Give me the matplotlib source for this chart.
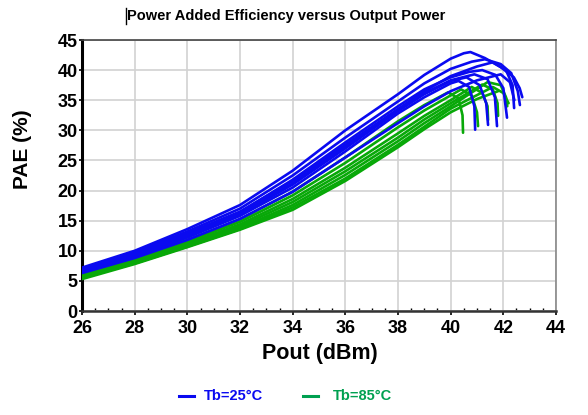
import matplotlib
matplotlib.use("Agg")
import matplotlib.pyplot as plt
from matplotlib.lines import Line2D
import numpy as np

plt.rcParams['font.family'] = ['Liberation Sans', 'DejaVu Sans']

# Blue curves (Tb=25°C): Pout (dBm) and PAE (%)
b1_x = [26, 28, 30, 32, 34, 36, 38, 39, 40, 40.5, 40.75, 41.3, 41.9, 42.4, 42.62, 42.72]
b1_y = [7.2, 10.0, 13.6, 17.6, 23.3, 30.0, 36.0, 39.2, 41.9, 42.8, 43.0, 42.0, 40.5, 38.8, 37.0, 35.5]
b2_x = [26, 28, 30, 32, 34, 36, 38, 39, 40, 40.8, 41.3, 41.9, 42.3, 42.55, 42.63]
b2_y = [7.0, 9.8, 13.2, 17.0, 22.5, 28.8, 34.8, 37.8, 40.2, 41.4, 41.8, 41.0, 39.5, 36.5, 34.2]
b3_x = [26, 28, 30, 32, 34, 36, 38, 39, 40, 41.0, 41.6, 42.1, 42.35, 42.41]
b3_y = [6.9, 9.6, 12.9, 16.5, 21.6, 27.6, 33.5, 36.5, 39.0, 40.6, 41.3, 40.0, 37.5, 33.7]
b4_x = [26, 28, 30, 32, 34, 36, 38, 39, 40, 40.7, 41.2, 41.7, 42.0, 42.14]
b4_y = [6.8, 9.5, 12.8, 16.4, 21.8, 28.0, 34.0, 36.8, 38.8, 39.7, 40.0, 39.2, 37.0, 32.1]
b5_x = [26, 28, 30, 32, 34, 36, 38, 39, 40, 40.9, 41.4, 41.68, 41.76]
b5_y = [6.7, 9.4, 12.6, 16.2, 21.2, 27.3, 33.5, 36.2, 38.3, 39.3, 38.5, 35.5, 30.7]
b6_x = [26, 28, 30, 32, 34, 36, 38, 39, 40, 40.6, 41.1, 41.35, 41.42]
b6_y = [6.6, 9.2, 12.4, 16.0, 21.0, 27.0, 33.2, 36.0, 38.2, 38.8, 37.5, 34.5, 30.9]
b7_x = [26, 28, 30, 32, 34, 36, 38, 39, 40, 40.3, 40.7, 40.9, 40.93]
b7_y = [6.5, 9.0, 12.2, 15.8, 20.5, 26.5, 32.8, 35.5, 37.8, 38.2, 37.2, 34.0, 30.1]
b8_x = [26, 28, 30, 32, 34, 36, 38, 39, 40, 41.0, 41.9, 42.25, 42.42]
b8_y = [6.3, 8.8, 11.8, 15.3, 19.8, 25.5, 31.2, 34.0, 36.5, 38.3, 39.3, 38.0, 35.0]

# Green curves (Tb=85°C)
g1_x = [26, 28, 30, 32, 34, 36, 38, 39, 39.9, 40.3, 40.45, 40.47]
g1_y = [6.3, 8.8, 11.8, 15.2, 19.8, 25.5, 31.5, 34.2, 36.3, 35.3, 32.5, 29.6]
g2_x = [26, 28, 30, 32, 34, 36, 38, 39, 40, 40.4, 40.8, 41.0, 41.04]
g2_y = [6.1, 8.6, 11.5, 14.8, 19.2, 24.6, 30.5, 33.3, 35.8, 36.8, 35.8, 33.0, 30.7]
g3_x = [26, 28, 30, 32, 34, 36, 38, 39, 40, 40.8, 41.2, 41.4, 41.42]
g3_y = [5.9, 8.4, 11.2, 14.4, 18.6, 23.8, 29.5, 32.4, 35.0, 37.2, 36.2, 34.0, 31.7]
g4_x = [26, 28, 30, 32, 34, 36, 38, 39, 40, 41.2, 41.6, 41.78, 41.8]
g4_y = [5.8, 8.2, 11.0, 14.1, 18.1, 23.2, 28.8, 31.8, 34.5, 37.6, 36.8, 34.5, 32.4]
g5_x = [26, 28, 30, 32, 34, 36, 38, 39, 40, 41.4, 41.9, 42.1, 42.15]
g5_y = [5.6, 8.0, 10.8, 13.8, 17.6, 22.6, 28.2, 31.2, 34.0, 38.0, 37.5, 35.5, 34.0]
g6_x = [26, 28, 30, 32, 34, 36, 38, 39, 40, 41.6, 42.0, 42.2]
g6_y = [5.5, 7.9, 10.7, 13.6, 17.2, 22.0, 27.6, 30.6, 33.6, 37.2, 36.2, 34.5]
g7_x = [26, 28, 30, 32, 34, 36, 38, 39, 40, 41.0, 41.8]
g7_y = [5.3, 7.8, 10.6, 13.5, 16.8, 21.6, 27.2, 30.2, 33.0, 35.2, 36.5]

blue_curves = [(b1_x, b1_y), (b2_x, b2_y), (b3_x, b3_y), (b4_x, b4_y),
               (b5_x, b5_y), (b6_x, b6_y), (b7_x, b7_y), (b8_x, b8_y)]
green_curves = [(g1_x, g1_y), (g2_x, g2_y), (g3_x, g3_y), (g4_x, g4_y),
                (g5_x, g5_y), (g6_x, g6_y), (g7_x, g7_y)]

x_ticks = [26, 28, 30, 32, 34, 36, 38, 40, 42, 44]
y_ticks = [0, 5, 10, 15, 20, 25, 30, 35, 40, 45]
legend_labels = ["Tb=25°C", "Tb=85°C"]

BLUE = "#0a0af0"
GREEN = "#08a808"
LEG_GREEN = "#00a050"

fig = plt.figure(figsize=(5.88, 4.15), dpi=100)
ax = fig.add_axes([82/588, 1-311/415, (556-82)/588, (311-40)/415])

for xs, ys in green_curves:
    ax.plot(xs, ys, color=GREEN, lw=1.9, solid_capstyle='round', zorder=3)
for xs, ys in blue_curves:
    ax.plot(xs, ys, color=BLUE, lw=1.9, solid_capstyle='round', zorder=4)

ax.set_xlim(26, 44)
ax.set_ylim(0, 45)
ax.set_xticks(x_ticks)
ax.set_yticks(y_ticks)
ax.set_xticks(np.arange(26, 44.01, 0.5), minor=True)
ax.grid(True, which='major', color='#d2d2d2', lw=1.2, zorder=0)
ax.set_axisbelow(True)

ax.tick_params(axis='both', which='major', labelsize=13, length=3, width=1.2, colors='black')
ax.tick_params(axis='x', which='minor', direction='in', length=2.5, width=1)
ax.tick_params(axis='y', which='major', length=2)
for lab in ax.get_xticklabels() + ax.get_yticklabels():
    lab.set_fontweight('bold')
ax.tick_params(axis='x', pad=3.5)
ax.tick_params(axis='y', pad=1)

ax.spines['left'].set_linewidth(2.2)
ax.spines['left'].set_color('black')
ax.spines['bottom'].set_linewidth(1.8)
ax.spines['bottom'].set_color('#333333')
ax.spines['top'].set_linewidth(1.2)
ax.spines['top'].set_color('#444444')
ax.spines['right'].set_linewidth(1.2)
ax.spines['right'].set_color('#888888')

fig.text(22/588, 1-149/415, "PAE (%)", rotation=90, ha='center', va='center',
         fontsize=15, fontweight='bold')
fig.text(320/588, 1-353/415, "Pout (dBm)", ha='center', va='center',
         fontsize=15.5, fontweight='bold')
fig.text(127/588, 1-16/415, "Power Added Efficiency versus Output Power", ha='left',
         va='center', fontsize=10.5, fontweight='bold')
fig.add_artist(Line2D([126/588, 126/588], [1-24/415, 1-8/415], color='black', lw=1))

# legend
fig.add_artist(Line2D([179/588, 194/588], [1-396/415, 1-396/415], color=BLUE, lw=2.2))
fig.text(204/588, 1-396/415, legend_labels[0], color=BLUE, ha='left', va='center',
         fontsize=10.5, fontweight='bold')
fig.add_artist(Line2D([303/588, 318/588], [1-396/415, 1-396/415], color=LEG_GREEN, lw=2.2))
fig.text(333/588, 1-396/415, legend_labels[1], color=LEG_GREEN, ha='left', va='center',
         fontsize=10.5, fontweight='bold')

fig.savefig("out.png", dpi=100)
